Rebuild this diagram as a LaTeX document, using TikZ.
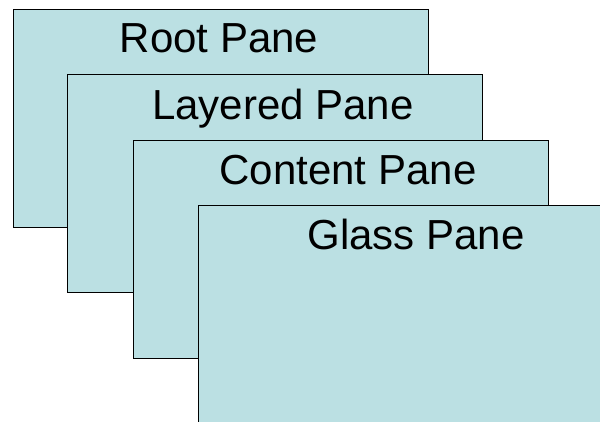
\documentclass[tikz,border=0pt]{standalone}
\usepackage{fontspec}
\setmainfont{Liberation Sans}
\usetikzlibrary{positioning}
\definecolor{panefill}{RGB}{187,224,227}
\tikzset{
  pane/.style={draw, line width=1pt, fill=panefill, anchor=north west,
    minimum width=415pt, minimum height=218pt, inner sep=0pt},
  panelabel/.style={anchor=base, inner sep=0pt, font=\fontsize{42}{48}\selectfont}
}
\begin{document}
\begin{tikzpicture}[x=1pt,y=-1pt]
				\clip (0,0) rectangle (600,422);
				\node[pane] (root) at (13,9) {};
				\node[panelabel] (rootlbl) at (219,53) {Root Pane};
				\node[pane] (layered) at (67,74) {};
				\node[panelabel] (layeredlbl) at (283,120) {Layered Pane};
				\node[pane] (content) at (133,140) {};
				\node[panelabel] (contentlbl) at (348,185) {Content Pane};
				\node[pane] (glass) at (198,205) {};
				\node[panelabel] (glasslbl) at (416,250) {Glass Pane};
\end{tikzpicture}
\end{document}
